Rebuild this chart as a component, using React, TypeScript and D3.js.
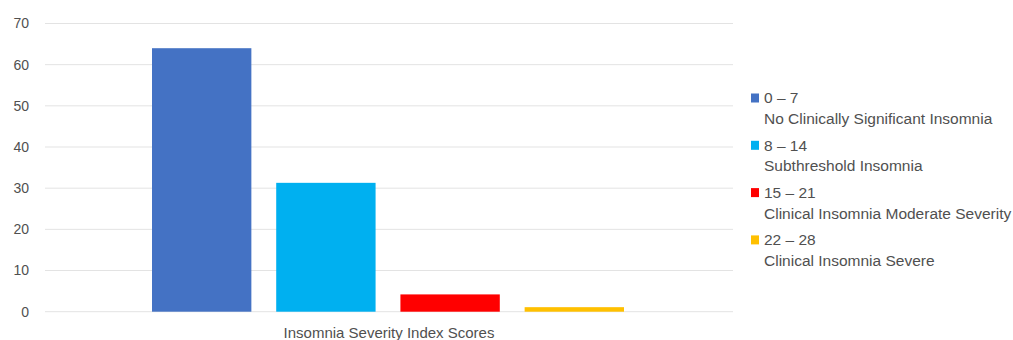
import React from "react";
import * as d3 from "d3";

const seriesRanges = ["0 – 7", "8 – 14", "15 – 21", "22 – 28"];
const seriesNames = [
  "No Clinically Significant Insomnia",
  "Subthreshold Insomnia",
  "Clinical Insomnia Moderate Severity",
  "Clinical Insomnia Severe",
];
const seriesValues = [64.0, 31.3, 4.2, 1.1];
const seriesColors = ["#4472C4", "#00B0F0", "#FF0000", "#FFC000"];
const categoryLabel = "Insomnia Severity Index Scores";
const yTicks = [0, 10, 20, 30, 40, 50, 60, 70];

const W = 1013;
const H = 340;
const FONT = "'Liberation Sans', Arial, sans-serif";
const TEXT = "#505050";

export default function App() {
  const plotLeft = 45;
  const plotRight = 733;
  const y = d3.scaleLinear().domain([0, 70]).range([311.7, 23.5]);
  const x = d3
    .scaleBand<number>()
    .domain(d3.range(seriesValues.length))
    .range([152, 624])
    .paddingInner(0.2)
    .paddingOuter(0);

  return (
    <svg
      width={W}
      height={H}
      style={{ position: "absolute", left: 0, top: 0, background: "#fff" }}
      fontFamily={FONT}
    >
      {yTicks.map((t) => (
        <g key={t}>
          <line
            x1={plotLeft}
            x2={plotRight}
            y1={y(t)}
            y2={y(t)}
            stroke="#e3e3e3"
            strokeWidth={1}
          />
          <text
            x={29}
            y={y(t)}
            dy="0.35em"
            textAnchor="end"
            fontSize={14}
            fill={TEXT}
          >
            {t}
          </text>
        </g>
      ))}
      {seriesValues.map((v, i) => (
        <rect
          key={i}
          x={x(i)}
          width={x.bandwidth()}
          y={y(v)}
          height={y(0) - y(v)}
          fill={seriesColors[i]}
        />
      ))}
      <text
        x={(plotLeft + plotRight) / 2}
        y={338}
        textAnchor="middle"
        fontSize={15}
        fill={TEXT}
      >
        {categoryLabel}
      </text>
      {seriesRanges.map((r, i) => {
        const top = 98 + i * 47.3;
        return (
          <g key={r}>
            <rect x={751} y={top - 4.5} width={8} height={9} fill={seriesColors[i]} />
            <text x={764} y={top} dy="0.35em" fontSize={15.5} fill={TEXT}>
              {r}
            </text>
            <text x={764} y={top + 20.5} dy="0.35em" fontSize={15.5} fill={TEXT}>
              {seriesNames[i]}
            </text>
          </g>
        );
      })}
    </svg>
  );
}
